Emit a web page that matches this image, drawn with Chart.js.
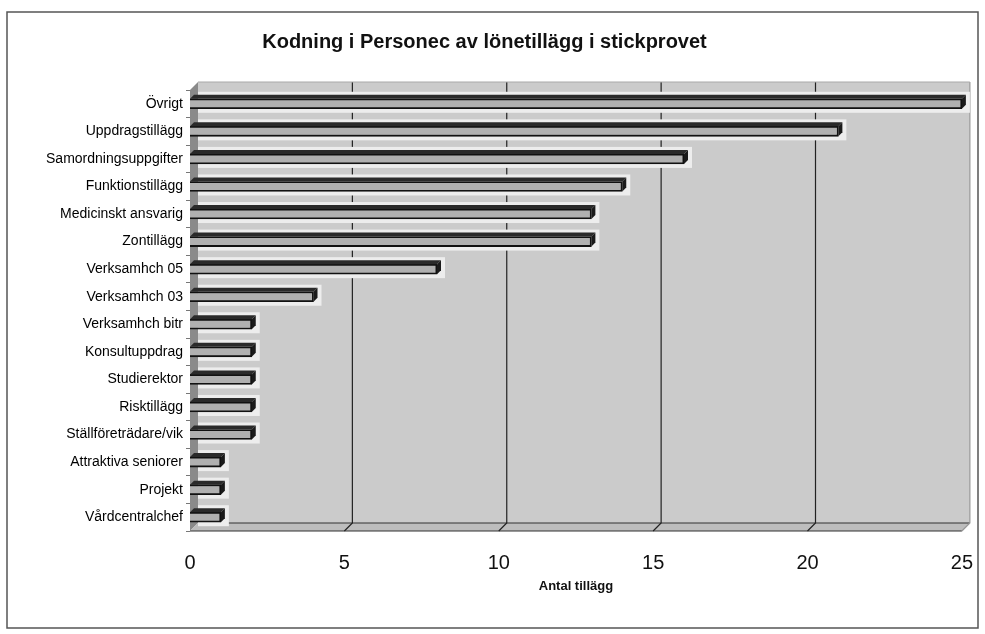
<!DOCTYPE html>
<html>
<head>
<meta charset="utf-8">
<title>Kodning i Personec av lönetillägg i stickprovet</title>
<script src="https://cdn.jsdelivr.net/npm/chart.js@4.4.1/dist/chart.umd.min.js"></script>
<style>
html, body { margin: 0; padding: 0; background: #fff; }
#wrap { width: 985px; height: 634px; position: relative; }
</style>
</head>
<body>
<div id="wrap"><canvas id="chart" width="985" height="634"></canvas></div>
<script>
// Kodning i Personec av lönetillägg i stickprovet - liggande 3D-stapeldiagram
var categories = ['Övrigt', 'Uppdragstillägg', 'Samordningsuppgifter', 'Funktionstillägg',
    'Medicinskt ansvarig', 'Zontillägg', 'Verksamhch 05', 'Verksamhch 03', 'Verksamhch bitr',
    'Konsultuppdrag', 'Studierektor', 'Risktillägg', 'Ställföreträdare/vik',
    'Attraktiva seniorer', 'Projekt', 'Vårdcentralchef'];
var antal = [25, 21, 16, 14, 13, 13, 8, 4, 2, 2, 2, 2, 2, 1, 1, 1];
var xTicks = [0, 5, 10, 15, 20, 25];

var FONT = "'Liberation Sans', Arial, sans-serif";
var DEPTH = 8;      // djup på väggarna
var BAR_DEPTH = 4;  // djup på staplarna

var frame3d = {
    id: 'frame3d',
    beforeDraw: function(chart) {
        var ctx = chart.ctx, a = chart.chartArea, xs = chart.scales.x;
        ctx.save();
        ctx.fillStyle = '#fff';
        ctx.fillRect(0, 0, chart.width, chart.height);
        // ram runt hela diagrammet
        ctx.strokeStyle = '#555';
        ctx.lineWidth = 1.5;
        ctx.strokeRect(7, 12, 971, 616);

        var L = a.left, R = a.right, T = a.top, B = a.bottom, d = DEPTH;
        // bakvägg
        ctx.fillStyle = '#cbcbcb';
        ctx.fillRect(L + d, T - d, R - L, B - T);
        // vänster vägg
        ctx.beginPath();
        ctx.moveTo(L, T); ctx.lineTo(L + d, T - d); ctx.lineTo(L + d, B - d); ctx.lineTo(L, B);
        ctx.closePath();
        ctx.fillStyle = '#8a8a8a';
        ctx.fill();
        // golv
        ctx.beginPath();
        ctx.moveTo(L, B); ctx.lineTo(L + d, B - d); ctx.lineTo(R + d, B - d); ctx.lineTo(R, B);
        ctx.closePath();
        ctx.fillStyle = '#bdbdbd';
        ctx.fill();
        ctx.strokeStyle = '#333';
        ctx.lineWidth = 1.2;
        ctx.beginPath();
        ctx.moveTo(L, B); ctx.lineTo(R, B);
        ctx.moveTo(L + d, B - d); ctx.lineTo(R + d, B - d);
        ctx.stroke();
        // rutnät
        xTicks.forEach(function(v) {
            if (v === 0) return;
            var x = xs.getPixelForValue(v);
            ctx.strokeStyle = v === 25 ? '#999' : '#222';
            ctx.beginPath();
            ctx.moveTo(x + d, T - d);
            ctx.lineTo(x + d, B - d);
            ctx.lineTo(x, B);
            ctx.stroke();
        });
        ctx.strokeStyle = '#aaa';
        ctx.beginPath();
        ctx.moveTo(L + d, T - d); ctx.lineTo(R + d, T - d);
        ctx.stroke();
        ctx.restore();
    },
    beforeDatasetsDraw: function(chart) {
        // ljus gloria runt staplarna
        var ctx = chart.ctx, bd = BAR_DEPTH;
        ctx.save();
        ctx.fillStyle = '#ededed';
        chart.getDatasetMeta(0).data.forEach(function(el) {
            var p = el.getProps(['x', 'y', 'base', 'height'], true);
            var top = p.y - p.height / 2, bot = p.y + p.height / 2;
            ctx.fillRect(p.base + DEPTH, top - bd - 3, p.x - p.base - DEPTH + bd + 4, bot - top + bd + 7);
        });
        ctx.restore();
    },
    afterDatasetsDraw: function(chart) {
        var ctx = chart.ctx, bd = BAR_DEPTH;
        ctx.save();
        chart.getDatasetMeta(0).data.forEach(function(el) {
            var p = el.getProps(['x', 'y', 'base', 'height'], true);
            var top = p.y - p.height / 2, bot = p.y + p.height / 2;
            // ovansida
            ctx.beginPath();
            ctx.moveTo(p.base, top); ctx.lineTo(p.base + bd, top - bd);
            ctx.lineTo(p.x + bd, top - bd); ctx.lineTo(p.x, top);
            ctx.closePath();
            ctx.fillStyle = '#2a2a2a';
            ctx.fill();
            // gavel
            ctx.beginPath();
            ctx.moveTo(p.x, top); ctx.lineTo(p.x + bd, top - bd);
            ctx.lineTo(p.x + bd, bot - bd); ctx.lineTo(p.x, bot);
            ctx.closePath();
            ctx.fillStyle = '#1a1a1a';
            ctx.fill();
        });
        ctx.restore();
    }
};

new Chart(document.getElementById('chart').getContext('2d'), {
    type: 'bar',
    data: {
        labels: categories,
        datasets: [{
            label: 'Antal tillägg',
            data: antal,
            backgroundColor: '#b0b0b0',
            borderColor: '#111',
            borderWidth: 1.8,
            barThickness: 10
        }]
    },
    options: {
        indexAxis: 'y',
        responsive: false,
        devicePixelRatio: 1,
        animation: false,
        layout: { padding: { left: 0, right: 16, top: 0, bottom: 0 } },
        scales: {
            x: {
                min: 0, max: 25,
                ticks: { stepSize: 5, color: '#111', padding: 12, font: { family: FONT, size: 20 } },
                grid: { display: false },
                border: { display: false },
                title: { display: true, text: 'Antal tillägg', color: '#111',
                    font: { family: FONT, size: 13, weight: 'bold' }, padding: { top: 0, bottom: 40 } },
                afterFit: function(s) { s.height = 103; }
            },
            y: {
                ticks: { color: '#000', padding: 3, font: { family: FONT, size: 14 } },
                grid: { drawOnChartArea: false, drawTicks: true, tickLength: 4, color: '#777', offset: true },
                border: { display: false },
                afterFit: function(s) { s.width = 190; }
            }
        },
        plugins: {
            legend: { display: false },
            tooltip: { enabled: false },
            title: {
                display: true,
                text: 'Kodning i Personec av lönetillägg i stickprovet',
                color: '#111',
                font: { family: FONT, size: 20, weight: 'bold' },
                padding: { top: 30, bottom: 36 }
            }
        }
    },
    plugins: [frame3d]
});
</script>
</body>
</html>
